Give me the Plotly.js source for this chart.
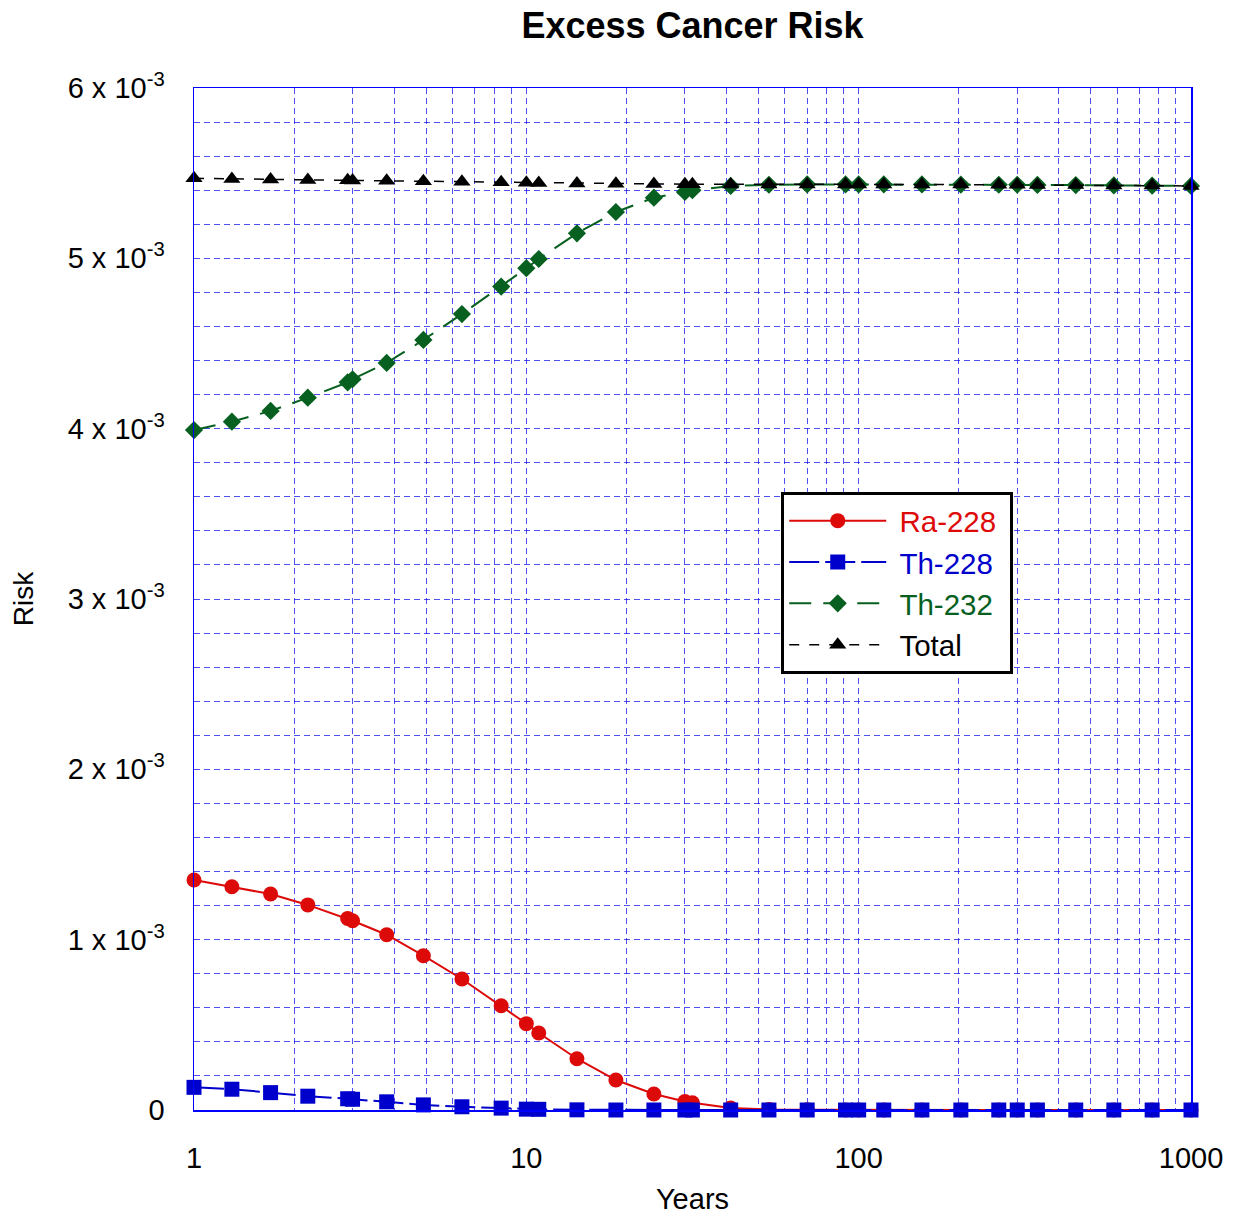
<!DOCTYPE html>
<html><head><meta charset="utf-8">
<script src="https://cdn.plot.ly/plotly-3.0.1.min.js"></script>
<style>html,body{margin:0;padding:0;background:#fff}#chart{width:1239px;height:1218px}</style>
</head><body><div id="chart"></div>
<script>
// Years (x)
const years = [1, 1.3, 1.7, 2.2, 2.9, 3, 3.8, 4.9, 6.4, 8.4, 10, 10.9, 14.2, 18.6, 24.2, 30, 31.6, 41.2, 53.7, 70, 91.3, 100, 119, 155, 203, 264, 300, 345, 450, 586, 764, 1000];
// Risk values in units of 10^-3
const ra228 = [1.350, 1.311, 1.268, 1.204, 1.125, 1.111, 1.029, 0.906, 0.769, 0.612, 0.507, 0.452, 0.301, 0.176, 0.094, 0.050, 0.042, 0.012, 0.003, 0.001, 0, 0, 0, 0, 0, 0, 0, 0, 0, 0, 0, 0];
const th228 = [0.133, 0.122, 0.102, 0.081, 0.066, 0.063, 0.048, 0.030, 0.019, 0.011, 0.005, 0.004, 0.001, 0, 0, 0, 0, 0, 0, 0, 0, 0, 0, 0, 0, 0, 0, 0, 0, 0, 0, 0];
const th232 = [3.992, 4.041, 4.104, 4.182, 4.272, 4.290, 4.386, 4.521, 4.673, 4.834, 4.942, 4.996, 5.147, 5.272, 5.356, 5.390, 5.400, 5.425, 5.432, 5.434, 5.434, 5.434, 5.434, 5.434, 5.433, 5.432, 5.432, 5.431, 5.430, 5.428, 5.427, 5.425];
const total = [5.470, 5.466, 5.463, 5.460, 5.458, 5.457, 5.455, 5.452, 5.449, 5.446, 5.444, 5.443, 5.440, 5.438, 5.436, 5.435, 5.435, 5.434, 5.434, 5.434, 5.434, 5.434, 5.434, 5.434, 5.433, 5.432, 5.432, 5.431, 5.430, 5.428, 5.427, 5.425];

const seriesNames = ['Ra-228', 'Th-228', 'Th-232', 'Total'];

const xLabelVals = [1, 10, 100, 1000];
const xLabelText = ['1', '10', '100', '1000'];
const xMinorVals = [2,3,4,5,6,7,8,9,20,30,40,50,60,70,80,90,200,300,400,500,600,700,800,900];

const yLabelVals = [0, 1, 2, 3, 4, 5, 6];
const yLabelText = ['0', '1 x 10<sup>-3</sup>', '2 x 10<sup>-3</sup>', '3 x 10<sup>-3</sup>', '4 x 10<sup>-3</sup>', '5 x 10<sup>-3</sup>', '6 x 10<sup>-3</sup>'];
const yMinorVals = [0.2,0.4,0.6,0.8,1.2,1.4,1.6,1.8,2.2,2.4,2.6,2.8,3.2,3.4,3.6,3.8,4.2,4.4,4.6,4.8,5.2,5.4,5.6,5.8];

const colors = ['#dd0a0a', '#0000cc', '#07601f', '#000000'];

function label(i){ return '<span style="color:' + colors[i] + '">&nbsp;' + seriesNames[i] + '&nbsp;</span>'; }

const traces = [
  {x: years, y: ra228, name: label(0), mode: 'lines+markers', cliponaxis: false,
   line: {color: colors[0], width: 2}, marker: {symbol: 'circle', size: 15, color: colors[0]}},
  {x: years, y: th228, name: label(1), mode: 'lines+markers', cliponaxis: false,
   line: {color: colors[1], width: 2, dash: '30px,6px'}, marker: {symbol: 'square', size: 15, color: colors[1]}},
  {x: years, y: th232, name: label(2), mode: 'lines+markers', cliponaxis: false,
   line: {color: colors[2], width: 2, dash: '22px,12px'}, marker: {symbol: 'diamond', size: 14, color: colors[2]}},
  {x: years, y: total, name: label(3), mode: 'lines+markers', cliponaxis: false,
   line: {color: colors[3], width: 1.5, dash: '10px,10px'}, marker: {symbol: 'triangle-up', size: 15, color: colors[3]}}
];

const gridColor = 'rgba(20,20,235,0.75)';
const gridDash = '6px,4px';
const fontFam = 'Liberation Sans, Arial, sans-serif';

const layout = {
  width: 1239, height: 1218,
  margin: {l: 194, r: 48, t: 88, b: 108, pad: 0},
  paper_bgcolor: '#fff', plot_bgcolor: '#fff',
  font: {family: fontFam, size: 29, color: '#000'},
  title: {text: '<b>Excess Cancer Risk</b>', font: {family: fontFam, size: 36, color: '#000'},
          x: 0.5, xref: 'paper', xanchor: 'center', y: 1 - 25/1218, yanchor: 'middle'},
  showlegend: true,
  legend: {x: 0.589, y: 0.6047, xanchor: 'left', yanchor: 'top', bgcolor: '#fff',
           bordercolor: '#000', borderwidth: 3, font: {family: fontFam, size: 29.5}, itemwidth: 97,
           tracegroupgap: 0},
  xaxis: {type: 'log', range: [0, 3],
          tickmode: 'array', tickvals: xLabelVals, ticktext: xLabelText,
          ticks: '', ticklabelstandoff: 22,
          showgrid: true, gridcolor: gridColor, gridwidth: 1, griddash: gridDash,
          minor: {tickmode: 'array', tickvals: xMinorVals, showgrid: true, gridcolor: gridColor, gridwidth: 1, griddash: gridDash, ticks: ''},
          showline: true, linecolor: '#0000ff', linewidth: 1.5, mirror: true, zeroline: false,
          title: {text: 'Years', font: {family: fontFam, size: 29}, standoff: 15},
          tickfont: {family: fontFam, size: 29}},
  yaxis: {range: [0, 6],
          tickmode: 'array', tickvals: yLabelVals, ticktext: yLabelText,
          ticks: '', ticklabelstandoff: 22,
          showgrid: true, gridcolor: gridColor, gridwidth: 1, griddash: gridDash,
          minor: {tickmode: 'array', tickvals: yMinorVals, showgrid: true, gridcolor: gridColor, gridwidth: 1, griddash: gridDash, ticks: ''},
          showline: true, linecolor: '#0000ff', linewidth: 1.5, mirror: true, zeroline: false,
          title: {text: 'Risk', font: {family: fontFam, size: 28}, standoff: 26},
          tickfont: {family: fontFam, size: 29}}
};

Plotly.newPlot('chart', traces, layout, {displayModeBar: false, staticPlot: true});
</script>
</body></html>
